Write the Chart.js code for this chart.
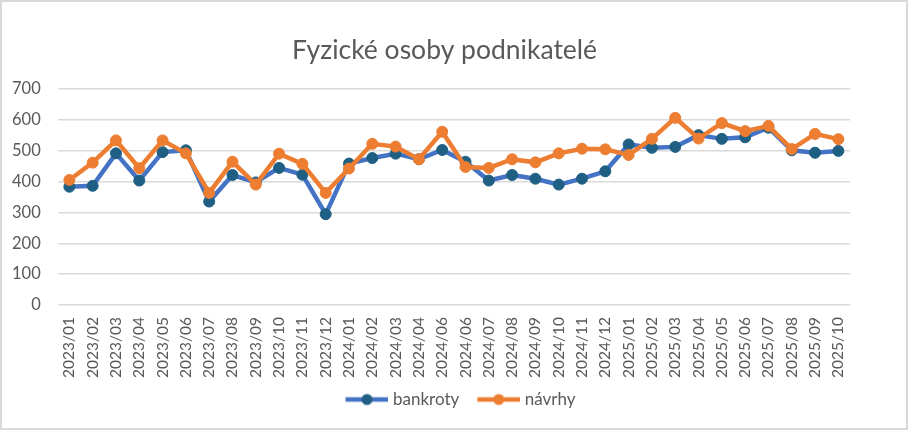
<!DOCTYPE html>
<html>
<head>
<meta charset="utf-8">
<script src="https://cdn.jsdelivr.net/npm/chart.js@4.4.1/dist/chart.umd.min.js"></script>
<style>
  html, body { margin:0; padding:0; background:#fff; }
  #wrap { position:relative; width:911px; height:431px; }
  #frame { position:absolute; left:0; top:0; width:908px; height:430px; box-sizing:border-box;
           border:2px solid #d9d9d9; pointer-events:none; }
  canvas { position:absolute; left:0; top:0; }
</style>
</head>
<body>
<div id="wrap">
  <canvas id="ch-fo" width="911" height="431"></canvas>
  <div id="frame"></div>
</div>
<script>
'use strict';

// categories (the duplicate 2024/06 is as in the source)
const months = ['2023/01','2023/02','2023/03','2023/04','2023/05','2023/06','2023/07','2023/08','2023/09','2023/10','2023/11','2023/12',
  '2024/01','2024/02','2024/03','2024/04','2024/06','2024/06','2024/07','2024/08','2024/09','2024/10','2024/11','2024/12',
  '2025/01','2025/02','2025/03','2025/04','2025/05','2025/06','2025/07','2025/08','2025/09','2025/10'];
const bankroty = [383,386,491,403,495,501,335,421,397,444,422,294,
  458,476,490,472,502,464,403,421,409,390,409,433,
  520,509,512,550,538,543,574,501,493,499];
const navrhy = [405,461,533,443,533,491,363,464,390,490,457,363,
  442,522,513,472,561,447,444,472,462,491,506,504,
  486,538,606,539,589,563,580,505,554,537];
const yTicks = [0,100,200,300,400,500,600,700];

const TXT = '#595959';
const FONT = "Lato, 'Open Sans', sans-serif";

// legend swatch: line with a dot; canvas is a bit wider than the legend box
function swatch(line, dot) {
  const c = document.createElement('canvas');
  c.width = 64; c.height = 14;
  const g = c.getContext('2d');
  g.strokeStyle = line; g.lineWidth = 4.5; g.lineCap = 'butt';
  g.beginPath(); g.moveTo(21,7); g.lineTo(64,7); g.stroke();
  g.fillStyle = dot;
  g.beginPath(); g.arc(42.5,7,5.5,0,Math.PI*2); g.fill();
  return c;
}
const swatches = [swatch('#4472c4','#1f5f83'), swatch('#ed7d31','#ed7d31')];

// excel centres title and legend a little left of the canvas centre
const boxShift = {
  id:'boxShift',
  afterLayout(chart) {
    const t = chart.titleBlock, l = chart.legend;
    t.left = 39; t.right = chart.chartArea.right;
    l.left = 54; l.right = chart.chartArea.right;
  }
};

function draw() {
  new Chart(document.getElementById('ch-fo'), {
    type:'line',
    data:{labels:months, datasets:[
      {label:'bankroty', data:bankroty, borderColor:'#4472c4', backgroundColor:'#1f5f83',
       borderWidth:4.5, pointRadius:5.5, pointBorderWidth:1, pointBorderColor:'#1f5f83',
       pointBackgroundColor:'#1f5f83', tension:0, order:1},
      {label:'návrhy', data:navrhy, borderColor:'#ed7d31', backgroundColor:'#ed7d31',
       borderWidth:4.5, pointRadius:5.5, pointBorderWidth:1, pointBorderColor:'#ed7d31',
       pointBackgroundColor:'#ed7d31', tension:0, order:0}
    ]},
    options:{responsive:false, animation:false, devicePixelRatio:1,
      layout:{padding:{left:-5, right:61, top:0, bottom:13}},
      plugins:{
        title:{display:true, text:'Fyzické osoby podnikatelé', color:TXT,
          font:{family:FONT, size:26.5, weight:'normal'}, padding:{top:35, bottom:22}},
        legend:{position:'bottom',
          labels:{color:TXT, font:{family:FONT, size:17}, usePointStyle:true, pointStyleWidth:56,
            boxHeight:14, padding:1,
            generateLabels:ch=>Chart.defaults.plugins.legend.labels.generateLabels(ch)
              .sort((a,b)=>a.datasetIndex-b.datasetIndex)
              .map(it=>Object.assign(it,{pointStyle:swatches[it.datasetIndex]}))}},
        tooltip:{enabled:false}
      },
      scales:{
        x:{offset:true, grid:{display:false, drawTicks:false}, border:{display:false},
          ticks:{color:TXT, font:{family:FONT, size:15.5}, minRotation:90, maxRotation:90, autoSkip:false, padding:12}},
        y:{min:0, max:700, grid:{color:'#d9d9d9', lineWidth:1.5, drawTicks:false}, border:{display:false},
          afterBuildTicks:ax=>{ ax.ticks = yTicks.map(v=>({value:v})); },
          ticks:{color:TXT, font:{family:FONT, size:16.5}, padding:17}}
      }
    },
    plugins:[boxShift]
  });
}
Promise.all(['16px Lato','15px Lato','26px Lato'].map(f=>document.fonts.load(f))).then(draw, draw);
</script>
</body>
</html>
